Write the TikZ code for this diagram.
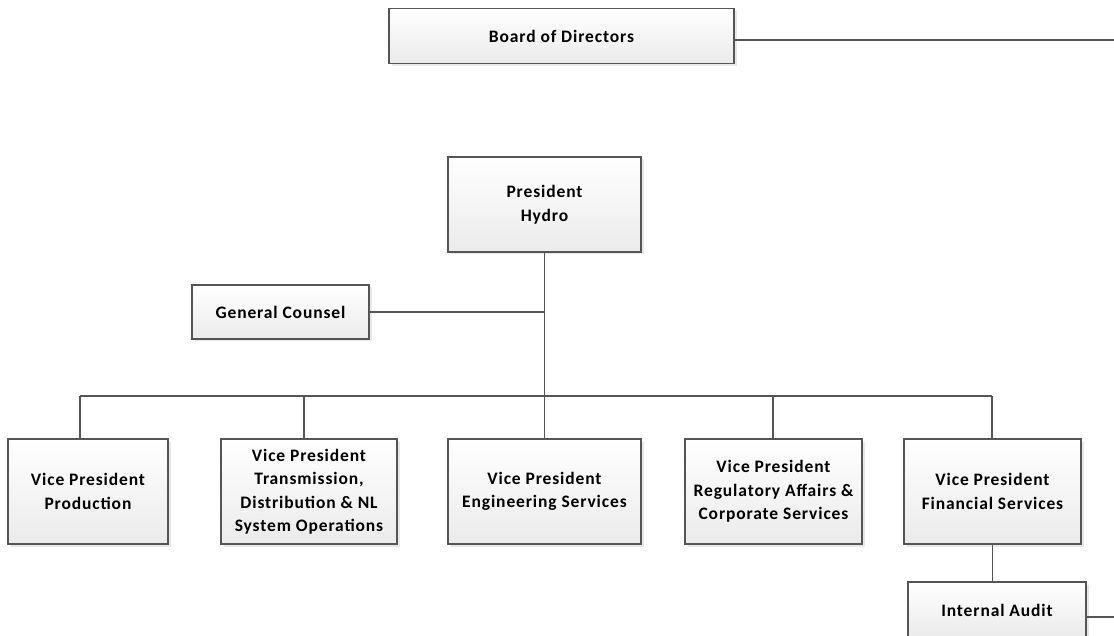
\documentclass[tikz,border=0pt]{standalone}
\usepackage{fontspec}
\setmainfont{Carlito}[LetterSpace=5]
\usetikzlibrary{positioning, shadows}
\definecolor{boxline}{RGB}{85, 85, 85}

\begin{document}
\begin{tikzpicture}[
                x=1pt, y=-1pt,
                box/.style={draw=boxline, line width=1.3pt, top color=white, bottom color=black!8, drop shadow={opacity=0.18, shadow xshift=2.5pt, shadow yshift=-2.5pt}, align=center, inner sep=0pt, font=\fontsize{17.5}{23.5}\selectfont\bfseries},
                vpbox/.style={box, minimum height=105pt},
                link/.style={draw=boxline, line width=1.3pt}
            ]
                \useasboundingbox (0,0) rectangle (1114,636);

                \node[box, minimum width=345pt, minimum height=55pt] (board) at (561.5,36) {Board of Directors};
                \node[box, minimum width=193pt, minimum height=95pt] (pres) at (544.5,204.5) {President\\Hydro};
                \node[box, minimum width=177pt, minimum height=54pt] (gc) at (280.5,312) {General Counsel};

                \node[vpbox, minimum width=160pt] (prod) at (88,491.5) {Vice President\\Production};
                \node[vpbox, minimum width=176pt] (trans) at (309,491.5) {Vice President\\Transmission,\\Distribution \& NL\\System Operations};
                \node[vpbox, minimum width=193pt] (eng) at (544.5,491.5) {Vice President\\Engineering Services};
                \node[vpbox, minimum width=177pt] (reg) at (773.5,491.5) {Vice President\\Regulatory Affairs \&\\Corporate Services};
                \node[vpbox, minimum width=177pt] (fin) at (992.5,491.5) {Vice President\\Financial Services};
                \node[box, minimum width=178pt, minimum height=56pt] (audit) at (997,610) {Internal Audit};

                \coordinate (bus) at (545,396);
                \coordinate (edgetop) at (1114,40);
                \coordinate (edgebot) at (1114,617);

                \draw[link] (board.east |- edgetop) -- (edgetop);
                \draw[link] (pres.south) -- (pres.south |- bus);
                \draw[link] (gc.east) -- (gc.east -| pres.south);
                \draw[link] ([xshift=-8pt]prod.north |- bus) -- ([xshift=-0.5pt]fin.north |- bus);
                \foreach \vp/\dx in {prod/-8, trans/-5, eng/0, reg/-0.5, fin/-0.5}
                    \draw[link] ([xshift=\dx pt]\vp.north) -- ([xshift=\dx pt]\vp.north |- bus);
                \draw[link] (fin.south) -- (fin.south |- audit.north);
                \draw[link] (audit.east |- edgebot) -- (edgebot);
            \end{tikzpicture}
\end{document}
